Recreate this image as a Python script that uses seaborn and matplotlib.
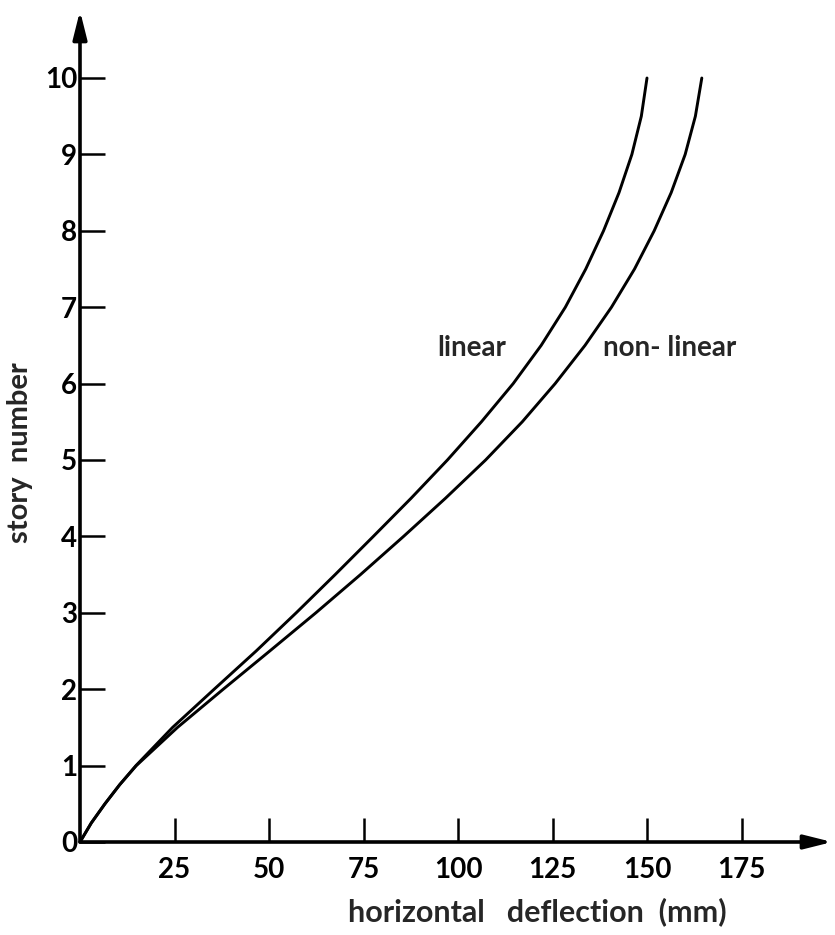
import matplotlib
matplotlib.use("Agg")
import matplotlib.pyplot as plt
import seaborn as sns
import pandas as pd

# story levels at which deflections were read
stories = [0, 0.25, 0.5, 0.75, 1, 1.5, 2, 2.5, 3, 3.5, 4, 4.5, 5, 5.5, 6, 6.5, 7, 7.5, 8, 8.5, 9, 9.5, 10]
# horizontal deflection (mm), linear analysis
linear = [0, 3.0, 6.6, 10.5, 14.8, 24.5, 35.5, 46.6, 57.2, 67.5, 77.6, 87.6, 97.2, 106.2, 114.6, 122.0, 128.4, 133.8, 138.5, 142.6, 146.0, 148.5, 150.0]
# horizontal deflection (mm), non-linear analysis
nonlinear = [0, 3.0, 6.6, 10.5, 14.9, 25.8, 37.9, 50.2, 62.4, 74.2, 85.6, 96.7, 107.3, 117.0, 125.7, 133.6, 140.6, 146.7, 151.9, 156.4, 160.1, 162.8, 164.5]

xticks = [25, 50, 75, 100, 125, 150, 175]
yticks = [0, 1, 2, 3, 4, 5, 6, 7, 8, 9, 10]

df = pd.concat([
    pd.DataFrame({"story": stories, "defl": linear, "case": "linear"}),
    pd.DataFrame({"story": stories, "defl": nonlinear, "case": "non-linear"}),
])

sns.set_theme(style="white")
plt.rcParams["font.family"] = ["Lato", "DejaVu Sans"]

W, H = 835, 935
fig = plt.figure(figsize=(W / 100, H / 100), dpi=100)
ox, oy = 80, 842
ax = fig.add_axes([ox / W, (H - oy) / H, (W - ox) / W, oy / H])

sns.lineplot(data=df, x="defl", y="story", hue="case", units="case", estimator=None,
             sort=False, palette=["black", "black"], linewidth=2.1, legend=False, ax=ax)
for ln in ax.lines:
    ln.set_solid_joinstyle("round")
    ln.set_solid_capstyle("round")

px = 3.78  # px per mm
py = 76.4  # px per story
ax.set_xlim(0, (W - ox) / px)
ax.set_ylim(0, oy / py)

for s in ax.spines.values():
    s.set_visible(False)

# axes with arrows
ax.annotate("", xy=(199, 0), xytext=(0, 0), xycoords="data",
            arrowprops=dict(arrowstyle="-|>,head_length=1.4,head_width=0.35", color="black",
                            lw=2.6, shrinkA=0, shrinkB=0), annotation_clip=False)
ax.annotate("", xy=(0, 10.88), xytext=(0, 0), xycoords="data",
            arrowprops=dict(arrowstyle="-|>,head_length=1.4,head_width=0.35", color="black",
                            lw=2.6, shrinkA=0, shrinkB=0), annotation_clip=False)

ax.set_xticks(xticks)
ax.set_xticklabels([str(v) for v in xticks])
ax.set_yticks(yticks)
ax.set_yticklabels([str(v) for v in yticks])
ax.tick_params(axis="x", direction="in", length=17, width=1.8, pad=11, labelsize=20,
               bottom=True, colors="black")
ax.tick_params(axis="y", direction="in", length=18, width=1.8, pad=2, labelsize=20,
               left=True, colors="black")
for lab in ax.get_xticklabels() + ax.get_yticklabels():
    lab.set_fontweight("bold")

ax.set_xlabel("horizontal   deflection  (mm)", fontsize=22, fontweight="bold")
ax.xaxis.set_label_coords((537 - ox) / (W - ox), -(897 - oy) / oy)
ax.set_ylabel("story  number", fontsize=21, fontweight="bold")
ax.yaxis.set_label_coords(-(ox - 33) / (W - ox), (oy - 453) / oy)

ax.text(103.5, 6.47, "linear", fontsize=20, fontweight="bold", ha="center", va="center")
ax.text(156, 6.47, "non- linear", fontsize=20, fontweight="bold", ha="center", va="center")

fig.savefig("out.png", dpi=100)
